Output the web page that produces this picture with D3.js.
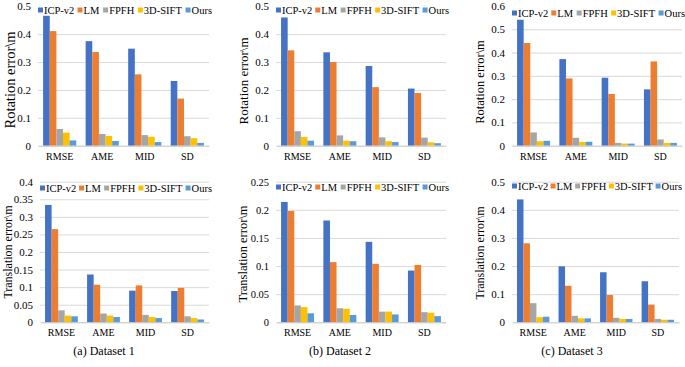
<!DOCTYPE html>
<html>
<head>
<meta charset="utf-8">
<script src="https://cdn.jsdelivr.net/npm/d3@7"></script>
<style>
  body { margin: 0; background: #fff; }
  text { font-family: "Liberation Serif", "Times New Roman", serif; fill: #000; }
</style>
</head>
<body>
<script>
const categories = ["RMSE", "AME", "MID", "SD"];
const methods = ["ICP-v2", "LM", "FPFH", "3D-SIFT", "Ours"];
const colors = ["#4472C4", "#ED7D31", "#A5A5A5", "#FFC000", "#5B9BD5"];

// one row per category, one value per method
const rotD1 = [
  [0.466, 0.411, 0.060, 0.047, 0.019],
  [0.375, 0.336, 0.042, 0.035, 0.017],
  [0.348, 0.256, 0.038, 0.032, 0.013],
  [0.232, 0.169, 0.034, 0.027, 0.010]
];
const rotD2 = [
  [0.460, 0.342, 0.052, 0.031, 0.018],
  [0.335, 0.300, 0.037, 0.018, 0.016],
  [0.286, 0.210, 0.030, 0.016, 0.013],
  [0.205, 0.189, 0.029, 0.012, 0.009]
];
const rotD3 = [
  [0.541, 0.441, 0.057, 0.019, 0.021],
  [0.372, 0.289, 0.034, 0.016, 0.017],
  [0.292, 0.222, 0.012, 0.009, 0.009],
  [0.242, 0.362, 0.027, 0.012, 0.012]
];
const transD1 = [
  [0.334, 0.265, 0.034, 0.019, 0.017],
  [0.136, 0.107, 0.025, 0.019, 0.015],
  [0.090, 0.105, 0.021, 0.015, 0.012],
  [0.089, 0.098, 0.017, 0.012, 0.008]
];
const transD2 = [
  [0.214, 0.198, 0.030, 0.027, 0.016],
  [0.181, 0.107, 0.025, 0.024, 0.013],
  [0.143, 0.104, 0.019, 0.019, 0.014],
  [0.092, 0.102, 0.018, 0.017, 0.011]
];
const transD3 = [
  [0.437, 0.281, 0.068, 0.018, 0.020],
  [0.199, 0.130, 0.023, 0.014, 0.014],
  [0.178, 0.097, 0.016, 0.012, 0.012],
  [0.146, 0.063, 0.012, 0.009, 0.009]
];

const ticksRot = [0, 0.1, 0.2, 0.3, 0.4, 0.5];
const ticksRot3 = [0, 0.1, 0.2, 0.3, 0.4, 0.5, 0.6];
const ticksT1 = [0, 0.05, 0.1, 0.15, 0.2, 0.25, 0.3, 0.35, 0.4];
const ticksT2 = [0, 0.05, 0.1, 0.15, 0.2, 0.25];
const ticksT3 = [0, 0.1, 0.2, 0.3, 0.4, 0.5];

const captions = ["(a) Dataset 1", "(b) Dataset 2", "(c) Dataset 3"];

const SERIF = "'Liberation Serif', 'Times New Roman', serif";

function main() {
    let svg = d3.select("body").append("svg")
        .attr("width", 685)
        .attr("height", 367)
        .attr("font-family", SERIF);

    let panels = [
        {data: rotD1, ticks: ticksRot, label: "Rotation error\\m", x: [38, 209], y: [145.7, 6.3], lab: [10, 80, 14.5], leg: 10, top: false, tf: 11},
        {data: rotD2, ticks: ticksRot, label: "Rotation error\\m", x: [276, 446], y: [145.7, 6.3], lab: [243, 81, 13], leg: 10, top: false, tf: 11},
        {data: rotD3, ticks: ticksRot3, label: "Rotation error\\m", x: [512, 682], y: [145.7, 6], lab: [480, 82, 12.5], leg: 13, top: false, tf: 11},
        {data: transD1, ticks: ticksT1, label: "Translation error\\m", x: [40, 209], y: [322.3, 181.7], lab: [8, 252, 12], leg: 188, top: true, tf: 11},
        {data: transD2, ticks: ticksT2, label: "Translation error\\m", x: [276, 446], y: [322.3, 181.7], lab: [243, 254, 12.5], leg: 187, top: true, tf: 10.5},
        {data: transD3, ticks: ticksT3, label: "Translation error\\m", x: [512, 679], y: [322.3, 181.7], lab: [480, 253, 12], leg: 186, top: true, tf: 11}
    ];

    panels.forEach(p => {
        let g = svg.append("g");
        let max = p.ticks[p.ticks.length - 1];
        let y = d3.scaleLinear().domain([0, max]).range(p.y);
        let x0 = d3.scaleBand().domain(categories).range(p.x)
            .paddingInner(0.22).paddingOuter(0.12);
        let x1 = d3.scaleBand().domain(methods).range([0, x0.bandwidth()]);
        let w = p.x[1] - p.x[0];

        // gridlines (top row is cut at the top line)
        let gridTicks = p.top ? p.ticks.slice(1) : p.ticks.slice(1, -1);
        let grid = g.append("g")
            .attr("transform", `translate(${p.x[0]},0)`)
            .call(d3.axisLeft(y).tickValues(gridTicks).tickSize(-w).tickFormat(""));
        grid.select(".domain").remove();
        grid.selectAll("line").attr("stroke", "#d9d9d9").attr("stroke-width", 1);

        // y tick labels
        let ya = g.append("g")
            .attr("transform", `translate(${p.x[0]},0)`)
            .call(d3.axisLeft(y).tickValues(p.ticks).tickSize(0).tickPadding(7).tickFormat(d => d))
            .attr("font-family", SERIF)
            .attr("font-size", p.tf);
        ya.select(".domain").remove();

        // bars
        g.append("g").selectAll("g")
            .data(p.data)
            .enter()
            .append("g")
            .attr("transform", (d, i) => `translate(${x0(categories[i])},0)`)
            .selectAll("rect")
            .data(d => d)
            .enter()
            .append("rect")
            .attr("x", (d, j) => x1(methods[j]))
            .attr("width", x1.bandwidth())
            .attr("y", d => y(d))
            .attr("height", d => y(0) - y(d))
            .attr("fill", (d, j) => colors[j]);

        // x axis
        let xa = g.append("g")
            .attr("transform", `translate(0,${p.y[0]})`)
            .call(d3.axisBottom(x0).tickSize(0).tickPadding(7).tickSizeOuter(0))
            .attr("font-family", SERIF)
            .attr("font-size", 10);
        xa.select(".domain").attr("stroke", "#bfbfbf");

        // y title
        g.append("text")
            .attr("transform", `translate(${p.lab[0]},${p.lab[1]}) rotate(-90)`)
            .attr("text-anchor", "middle")
            .attr("dominant-baseline", "central")
            .style("font-size", p.lab[2] + "px")
            .text(p.label);

        // legend spread across the plot width
        let leg = g.append("g").attr("transform", `translate(0,${p.leg})`);
        let items = leg.selectAll("g")
            .data(methods)
            .enter()
            .append("g");
        items.append("rect")
            .attr("width", 5).attr("height", 5).attr("y", -2.5)
            .attr("fill", (d, i) => colors[i]);
        items.append("text")
            .attr("x", 6)
            .attr("dominant-baseline", "central")
            .style("font-size", "10.5px")
            .text(d => d);
        let widths = [];
        items.each(function () { widths.push(this.getBBox().width); });
        let gap = (w + 3 - d3.sum(widths)) / (methods.length - 1);
        let pos = p.x[0];
        items.attr("transform", (d, i) => {
            let t = `translate(${pos},0)`;
            pos += widths[i] + gap;
            return t;
        });
    });

    svg.selectAll(".caption")
        .data(captions)
        .enter()
        .append("text")
        .attr("x", (d, i) => [104, 340, 572][i])
        .attr("y", 355)
        .attr("text-anchor", "middle")
        .style("font-size", "12px")
        .text(d => d);
}

main()
</script>
</body>
</html>
